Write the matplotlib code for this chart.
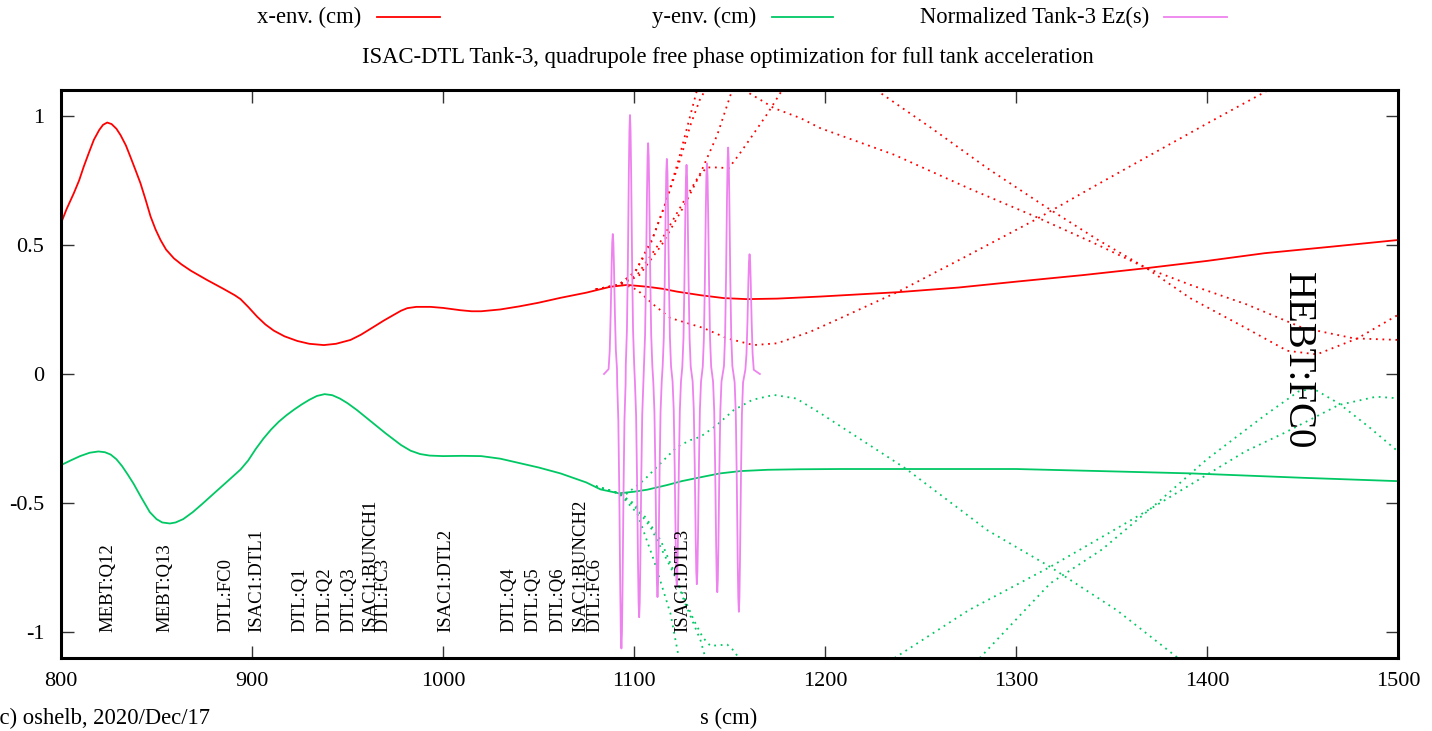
import matplotlib
matplotlib.use("Agg")
import matplotlib.pyplot as plt
from matplotlib.lines import Line2D

plt.rcParams['font.family'] = ['Liberation Serif', 'DejaVu Serif']
plt.rcParams['axes.unicode_minus'] = False

# ---------------- beam envelopes (cm) ----------------
x_env_s = [800, 803, 806.7, 809.5, 811.9, 814.5, 817.2, 820, 822, 824.2, 826.5, 829,
           831.2, 834, 836.4, 839, 841.6, 844.3, 846.9, 849.5, 852.1, 855, 859.1, 863,
           868, 876.5, 885, 891, 894, 898, 902.7, 907, 911.4, 917, 923.7, 930, 937.6,
           944, 951.6, 957, 963.8, 969, 974.2, 978, 981.3, 986, 993.5, 1000, 1009.2,
           1015, 1020, 1030, 1040, 1050, 1061.5, 1075, 1087.7, 1096.4, 1106.9, 1115,
           1122.6, 1135, 1147, 1159, 1175, 1197.6, 1238.4, 1270, 1300.5, 1335, 1368.3,
           1400, 1430.3, 1465, 1500]
x_env_v = [0.584, 0.64, 0.70, 0.75, 0.803, 0.855, 0.907, 0.945, 0.965, 0.974, 0.968,
           0.95, 0.925, 0.885, 0.84, 0.79, 0.739, 0.675, 0.61, 0.56, 0.519, 0.482,
           0.448, 0.425, 0.40, 0.364, 0.33, 0.305, 0.29, 0.26, 0.222, 0.192, 0.168,
           0.146, 0.128, 0.117, 0.112, 0.117, 0.132, 0.152, 0.183, 0.207, 0.229, 0.245,
           0.255, 0.26, 0.26, 0.256, 0.247, 0.243, 0.243, 0.25, 0.262, 0.276, 0.295,
           0.315, 0.338, 0.345, 0.338, 0.33, 0.319, 0.305, 0.294, 0.29, 0.292, 0.30,
           0.317, 0.335, 0.358, 0.383, 0.41, 0.438, 0.468, 0.493, 0.519]

y_env_s = [800, 805, 810, 815, 819.6, 823, 826, 829, 832, 835, 838, 842, 846.5, 850,
           853, 857, 860, 864, 869, 874, 880, 888, 894, 898, 902, 906, 910, 914, 918,
           922, 926, 930, 934, 938, 942, 946, 950, 955, 960, 970, 978, 983, 988, 993,
           1000, 1010, 1020, 1030, 1040, 1050, 1061.5, 1075, 1082.5, 1092, 1100, 1107,
           1117.4, 1125, 1134.8, 1145, 1155.8, 1170, 1187, 1208, 1261.6, 1300, 1344,
           1391.6, 1450, 1500]
y_env_v = [-0.353, -0.335, -0.318, -0.305, -0.300, -0.303, -0.312, -0.33, -0.357, -0.39,
           -0.425, -0.478, -0.535, -0.562, -0.575, -0.579, -0.575, -0.562, -0.535,
           -0.503, -0.463, -0.41, -0.37, -0.335, -0.29, -0.25, -0.215, -0.185, -0.16,
           -0.138, -0.118, -0.10, -0.085, -0.078, -0.082, -0.095, -0.113, -0.14, -0.17,
           -0.23, -0.275, -0.297, -0.31, -0.316, -0.318, -0.317, -0.318, -0.328, -0.345,
           -0.362, -0.385, -0.42, -0.447, -0.462, -0.456, -0.448, -0.43, -0.415, -0.40,
           -0.385, -0.376, -0.371, -0.369, -0.368, -0.368, -0.368, -0.376, -0.385,
           -0.402, -0.415]

# ---------------- alternative envelopes after the tank (dotted) ----------------
xd1_s = [1080, 1092, 1100, 1108, 1116, 1123, 1128, 1133]
xd1_v = [0.328, 0.345, 0.39, 0.49, 0.65, 0.82, 0.96, 1.1]
xd2_s = [1080, 1092, 1101, 1110.4, 1117.4, 1124.4, 1129.6, 1134.8, 1137.5]
xd2_v = [0.328, 0.345, 0.40, 0.539, 0.681, 0.836, 0.965, 1.069, 1.1]
xd3_s = [1080, 1092, 1101.7, 1113.9, 1126, 1134.8, 1143.6, 1151.4]
xd3_v = [0.328, 0.345, 0.384, 0.513, 0.668, 0.778, 0.926, 1.1]
xd4_s = [1080, 1092, 1102.5, 1114.5, 1126.5, 1134, 1138, 1144, 1149.6, 1155, 1161, 1170, 1177.6]
xd4_v = [0.328, 0.345, 0.38, 0.50, 0.655, 0.765, 0.80, 0.80, 0.797, 0.85, 0.913, 1.01, 1.1]
xd5_s = [1080, 1092, 1096, 1101.7, 1110, 1119, 1136.4, 1148.8, 1162.6, 1175, 1192.4,
         1208, 1238.4, 1275, 1310, 1340, 1372, 1400, 1432.2]
xd5_v = [0.328, 0.345, 0.343, 0.326, 0.27, 0.217, 0.178, 0.138, 0.112, 0.119, 0.164,
         0.216, 0.319, 0.46, 0.597, 0.723, 0.855, 0.97, 1.1]
xd6_s = [1157.5, 1166.2, 1173.2, 1187.2, 1197.6, 1236.3, 1275, 1310, 1340, 1368.3,
         1391.4, 1420.6, 1449.7, 1476.9, 1500]
xd6_v = [1.1, 1.062, 1.03, 0.991, 0.952, 0.849, 0.72, 0.61, 0.51, 0.41, 0.345, 0.27,
         0.18, 0.138, 0.132]
xd7_s = [1226.8, 1255.8, 1285, 1314, 1343, 1368.3, 1391.4, 1420.6, 1442, 1457.5, 1478.8, 1500]
xd7_v = [1.1, 0.952, 0.797, 0.655, 0.519, 0.41, 0.293, 0.177, 0.09, 0.076, 0.138, 0.229]

yd1_s = [1080, 1092, 1094.7, 1101.7, 1110.4, 1119.1, 1123.5]
yd1_v = [-0.435, -0.462, -0.482, -0.54, -0.721, -0.928, -1.1]
yd2_s = [1080, 1092, 1099.9, 1106.5, 1113.9, 1120, 1126.1, 1134.8, 1137.4]
yd2_v = [-0.435, -0.462, -0.501, -0.56, -0.643, -0.75, -0.876, -1.031, -1.1]
yd3_s = [1080, 1092, 1100, 1108.6, 1120.8, 1131.3, 1136, 1140, 1148.8, 1152, 1154.9]
yd3_v = [-0.435, -0.462, -0.51, -0.592, -0.773, -0.953, -1.02, -1.053, -1.048, -1.07, -1.1]
yd4_s = [1080, 1092, 1094.7, 1105.2, 1117.4, 1122.6, 1129.6, 1134.8, 1143, 1152.2,
         1162, 1173.2, 1185, 1197.6, 1242.2, 1285, 1317.9, 1352.8, 1384.8]
yd4_v = [-0.435, -0.462, -0.472, -0.411, -0.32, -0.282, -0.256, -0.243, -0.2, -0.14,
         -0.1, -0.081, -0.095, -0.152, -0.366, -0.605, -0.747, -0.915, -1.1]
yd5_s = [1236.4, 1275.2, 1317.9, 1350, 1372, 1395.5, 1420, 1440, 1469, 1488.5, 1500]
yd5_v = [-1.1, -0.915, -0.747, -0.61, -0.515, -0.41, -0.30, -0.23, -0.12, -0.088, -0.094]
yd6_s = [1281, 1317.9, 1345, 1372, 1400, 1430.3, 1447.8, 1455.5, 1469, 1484.6, 1500]
yd6_v = [-1.1, -0.811, -0.68, -0.512, -0.33, -0.16, -0.068, -0.056, -0.114, -0.204, -0.30]

x_dotted = [(xd1_s, xd1_v), (xd2_s, xd2_v), (xd3_s, xd3_v), (xd4_s, xd4_v),
            (xd5_s, xd5_v), (xd6_s, xd6_v), (xd7_s, xd7_v)]
y_dotted = [(yd1_s, yd1_v), (yd2_s, yd2_v), (yd3_s, yd3_v), (yd4_s, yd4_v),
            (yd5_s, yd5_v), (yd6_s, yd6_v)]

# ---------------- normalized Tank-3 field, one bump per accelerating gap ----------------
ez_start, ez_end = 1084.3, 1165.9
gap_centers = [1088.9, 1093.4, 1097.9, 1102.7, 1107.4, 1112.3, 1117.2, 1122.4,
               1127.5, 1132.9, 1138.2, 1143.6, 1149.3, 1154.9, 1160.5]
gap_amplitudes = [0.542, -1.063, 1.003, -0.942, 0.894, -0.864, 0.833, -0.824,
                  0.81, -0.814, 0.816, -0.845, 0.877, -0.921, 0.464]
gap_profile_offset = [-2.2, -1.6, -1.1, -0.6, -0.3, 0.0, 0.3, 0.6, 1.1, 1.6, 2.2]
gap_profile_fraction = [0.035, 0.17, 0.433, 0.78, 0.94, 1.0, 0.94, 0.78, 0.433, 0.17, 0.035]

ez_s = [ez_start]
ez_v = [0.0]
for c, a in zip(gap_centers, gap_amplitudes):
    for d, f in zip(gap_profile_offset, gap_profile_fraction):
        ez_s.append(c + d)
        ez_v.append(a * f)
ez_s.append(ez_end)
ez_v.append(0.0)

# ---------------- beamline elements ----------------
element_names = ["MEBT:Q12", "MEBT:Q13", "DTL:FC0", "ISAC1:DTL1", "DTL:Q1", "DTL:Q2",
                 "DTL:Q3", "ISAC1:BUNCH1", "DTL:FC3", "ISAC1:DTL2", "DTL:Q4", "DTL:Q5",
                 "DTL:Q6", "ISAC1:BUNCH2", "DTL:FC6", "ISAC1:DTL3"]
element_s = [824.6, 854.5, 886.6, 902.6, 925.0, 938.1, 950.8, 962.4, 968.8, 1001.7,
             1034.3, 1047.1, 1060.2, 1072.3, 1079.6, 1125.8]
end_name = "HEBT:FC0"
end_s = 1447.4

x_ticks = [800, 900, 1000, 1100, 1200, 1300, 1400, 1500]
y_ticks = [-1, -0.5, 0, 0.5, 1]
y_tick_labels = ["-1", "-0.5", "0", "0.5", "1"]

RED = "#ff0000"
GREEN = "#00c864"
VIOLET = "#ee82ee"
FS = 16.3

W, H = 1432, 731
fig = plt.figure(figsize=(W / 100, H / 100), dpi=100)
ax = fig.add_axes([61 / W, 1 - 658 / H, (1398 - 61) / W, (658 - 90) / H])

dot = dict(linestyle=(0, (1.0, 2.6)), linewidth=1.3)
for s, v in x_dotted:
    ax.plot(s, v, color=RED, **dot)
for s, v in y_dotted:
    ax.plot(s, v, color=GREEN, **dot)

ax.plot(x_env_s, x_env_v, color=RED, linewidth=1.3)
ax.plot(y_env_s, y_env_v, color=GREEN, linewidth=1.3)
ax.plot(ez_s, ez_v, color=VIOLET, linewidth=1.3)

for name, s in zip(element_names, element_s):
    ax.text(s, -1.0, name, rotation=90, ha="center", va="bottom", fontsize=13.5)
ax.text(end_s, 0.395, end_name, rotation=270, ha="center", va="top", fontsize=28)

ax.set_xlim(800, 1500)
ax.set_ylim(-1.1, 1.1)
ax.set_xticks(x_ticks)
ax.set_yticks(y_ticks)
ax.set_yticklabels(y_tick_labels)
ax.tick_params(direction="in", length=9, width=1, top=True, right=True,
               labelsize=16, color="#333333")
ax.tick_params(axis="x", pad=10)
ax.tick_params(axis="y", pad=12)
for sp in ax.spines.values():
    sp.set_linewidth(2.2)

fig.text(729 / W, 1 - 718 / H, "s (cm)", ha="center", va="center", fontsize=FS)
fig.text(210 / W, 1 - 718 / H, "(c) oshelb, 2020/Dec/17", ha="right", va="center",
         fontsize=FS)
fig.text(728 / W, 1 - 57 / H,
         "ISAC-DTL Tank-3, quadrupole free phase optimization for full tank acceleration",
         ha="center", va="center", fontsize=FS)

# key along the top
key_entries = [("x-env. (cm)", RED, 361, 377, 440),
               ("y-env. (cm)", GREEN, 756, 772, 833),
               ("Normalized Tank-3 Ez(s)", VIOLET, 1149, 1164, 1227)]
ky = 1 - 17 / H
for label, col, tx, l0, l1 in key_entries:
    fig.text(tx / W, ky, label, ha="right", va="center", fontsize=FS)
    fig.add_artist(Line2D([l0 / W, l1 / W], [ky, ky], color=col, linewidth=1.3))

fig.savefig("out.png", dpi=100)
